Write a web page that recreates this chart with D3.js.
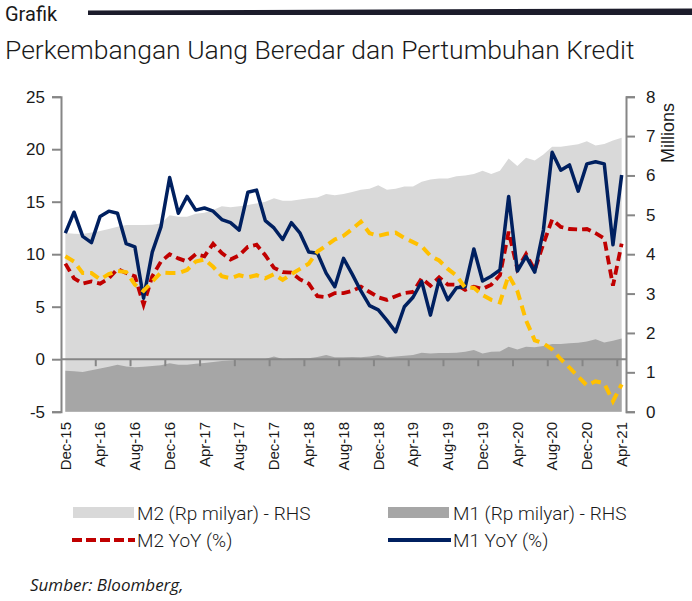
<!DOCTYPE html>
<html>
<head>
<meta charset="utf-8">
<script src="https://cdn.jsdelivr.net/npm/d3@7"></script>
<style>
  body { margin: 0; background: #fff; }
  svg { display: block; }
</style>
</head>
<body>
<div class="container"></div>
<script>
// categories (Dec-15 .. Apr-21)
const months = ["Dec-15","Jan-16","Feb-16","Mar-16","Apr-16","May-16","Jun-16","Jul-16","Aug-16","Sep-16","Oct-16","Nov-16",
  "Dec-16","Jan-17","Feb-17","Mar-17","Apr-17","May-17","Jun-17","Jul-17","Aug-17","Sep-17","Oct-17","Nov-17",
  "Dec-17","Jan-18","Feb-18","Mar-18","Apr-18","May-18","Jun-18","Jul-18","Aug-18","Sep-18","Oct-18","Nov-18",
  "Dec-18","Jan-19","Feb-19","Mar-19","Apr-19","May-19","Jun-19","Jul-19","Aug-19","Sep-19","Oct-19","Nov-19",
  "Dec-19","Jan-20","Feb-20","Mar-20","Apr-20","May-20","Jun-20","Jul-20","Aug-20","Sep-20","Oct-20","Nov-20",
  "Dec-20","Jan-21","Feb-21","Mar-21","Apr-21"]

// M2 and M1 level, Rp milyar in millions (RHS)
const m2Level = [4.54,4.52,4.51,4.55,4.59,4.64,4.70,4.74,4.74,4.74,4.75,4.78,
  4.99,4.95,4.95,5.03,5.05,5.12,5.22,5.19,5.22,5.25,5.29,5.33,
  5.42,5.36,5.36,5.39,5.42,5.44,5.53,5.50,5.53,5.58,5.64,5.66,
  5.75,5.64,5.66,5.72,5.72,5.84,5.90,5.92,5.92,5.98,6.00,6.04,
  6.12,6.04,6.12,6.43,6.24,6.45,6.38,6.53,6.73,6.73,6.76,6.79,
  6.87,6.76,6.80,6.89,6.96]
const m1Level = [1.04,1.03,1.01,1.05,1.10,1.14,1.19,1.15,1.13,1.14,1.16,1.18,
  1.23,1.19,1.19,1.22,1.24,1.26,1.29,1.30,1.31,1.31,1.32,1.34,
  1.40,1.34,1.35,1.36,1.36,1.39,1.44,1.38,1.38,1.39,1.38,1.40,
  1.44,1.38,1.40,1.42,1.44,1.50,1.48,1.49,1.49,1.50,1.52,1.57,
  1.48,1.52,1.53,1.65,1.58,1.65,1.64,1.67,1.72,1.72,1.74,1.75,
  1.78,1.84,1.76,1.80,1.86]

// growth, % YoY (LHS)
const m2Yoy = [9.1,7.7,7.2,7.4,7.2,7.7,8.6,8.2,7.9,5.2,7.9,9.3,
  10.0,9.6,9.3,10.0,9.8,11.0,10.1,9.5,9.9,10.7,10.9,9.9,
  8.7,8.3,8.25,7.6,7.2,6.0,5.9,6.3,6.3,6.5,6.9,6.4,
  5.9,5.65,6.0,6.3,6.4,7.7,7.0,7.8,7.1,7.1,6.6,6.9,
  6.7,7.1,8.0,12.15,8.6,10.0,8.5,11.0,13.3,12.6,12.4,12.35,
  12.4,12.0,11.5,7.0,11.0]
const m1Yoy = [12.0,14.0,11.7,11.1,13.6,14.1,13.9,11.0,10.7,5.8,10.2,12.6,
  17.3,13.9,15.5,14.2,14.4,14.1,13.3,13.0,12.3,15.9,16.1,13.2,
  12.5,11.4,13.0,12.0,10.2,10.1,8.2,6.9,9.6,8.1,6.5,5.1,
  4.7,3.7,2.6,5.0,5.9,7.4,4.2,7.55,5.65,6.8,6.9,10.5,
  7.45,7.9,8.5,15.5,8.4,9.8,8.3,12.3,19.7,18.0,18.5,16.0,
  18.6,18.8,18.6,10.9,17.55]
const creditYoy = [9.8,9.3,8.2,8.2,7.6,8.1,8.4,8.3,7.1,6.5,7.4,8.25,
  8.2,8.2,8.5,9.3,9.5,8.8,7.9,7.7,8.0,7.8,8.0,7.7,
  8.1,7.55,8.1,8.6,9.1,10.25,10.8,11.4,11.75,12.4,13.1,12.0,
  11.75,11.95,12.05,11.55,11.15,10.75,9.85,9.4,8.6,7.95,6.8,6.8,
  6.1,5.65,5.4,8.0,6.5,3.7,1.8,1.5,0.95,0.0,-0.8,-1.65,
  -2.5,-2.1,-2.3,-4.0,-2.4]

const leftTicks = [-5,0,5,10,15,20,25]
const rightTicks = [0,1,2,3,4,5,6,7,8]
const labelMonths = months.filter((d,i) => i % 4 == 0)

const width = 692
const height = 601
const plotLeft = 61, plotRight = 626
const plotTop = 96.7, plotBottom = 411.7

const svg = d3.select(".container").append("svg")
    .attr("width", width)
    .attr("height", height)

const xScale = d3.scaleBand()
    .domain(months)
    .range([plotLeft, plotRight])
const xMid = d => xScale(d) + xScale.bandwidth() / 2

const yLeft = d3.scaleLinear().domain([-5, 25]).range([plotBottom, plotTop])
const yRight = d3.scaleLinear().domain([0, 8]).range([plotBottom, plotTop])

// header
svg.append("text")
    .attr("x", 5).attr("y", 21)
    .style("font-family", "Roboto").style("font-weight", 400)
    .style("font-size", "20px").style("fill", "#1a1a1a")
    .text("Grafik")
svg.append("path")
    .attr("d", "M88,10.5 L692,8.5 L692,15 L88,15 Z")
    .style("fill", "#1c1c2b")
svg.append("text")
    .attr("x", 5).attr("y", 59)
    .style("font-family", "Roboto").style("font-weight", 300)
    .style("font-size", "26.5px").style("fill", "#1a1a1a")
    .text("Perkembangan Uang Beredar dan Pertumbuhan Kredit")

// areas (RHS)
const area = vals => d3.area()
    .x((d,i) => xMid(months[i]))
    .y0(yRight(0))
    .y1(d => yRight(d))(vals)

svg.append("path").attr("d", area(m2Level)).style("fill", "#d9d9d9")
svg.append("path").attr("d", area(m1Level)).style("fill", "#a6a6a6")

// zero line with category ticks every 4 months
const zeroY = yLeft(0)
svg.append("line")
    .attr("x1", plotLeft).attr("x2", plotRight)
    .attr("y1", zeroY).attr("y2", zeroY)
    .style("stroke", "#868686").style("stroke-width", 2)
svg.selectAll(".cattick")
    .data(labelMonths.slice(1))
    .enter()
    .append("line")
    .attr("class", "cattick")
    .attr("x1", d => xScale(d))
    .attr("x2", d => xScale(d))
    .attr("y1", zeroY).attr("y2", zeroY + 7)
    .style("stroke", "#868686").style("stroke-width", 2)

// lines (LHS)
const line = vals => d3.line()
    .x((d,i) => xMid(months[i]))
    .y(d => yLeft(d))(vals)

svg.append("path").attr("d", line(m2Yoy))
    .style("fill", "none").style("stroke", "#c00000")
    .style("stroke-width", 3.8).style("stroke-dasharray", "9,5")
svg.append("path").attr("d", line(m1Yoy))
    .style("fill", "none").style("stroke", "#002060")
    .style("stroke-width", 3.5).style("stroke-linejoin", "round")
svg.append("path").attr("d", line(creditYoy))
    .style("fill", "none").style("stroke", "#ffc000")
    .style("stroke-width", 4).style("stroke-dasharray", "10,6")

// axes
const leftAxis = d3.axisLeft(yLeft).tickValues(leftTicks).tickSize(9).tickPadding(7).tickFormat(d => d)
const rightAxis = d3.axisRight(yRight).tickValues(rightTicks).tickSize(9).tickPadding(11).tickFormat(d => d)

svg.append("g")
    .attr("id", "y-axis")
    .attr("transform", `translate(${plotLeft},0)`)
    .call(leftAxis)
svg.append("g")
    .attr("id", "y2-axis")
    .attr("transform", `translate(${plotRight},0)`)
    .call(rightAxis)

svg.selectAll("#y-axis path, #y-axis line, #y2-axis path, #y2-axis line")
    .style("stroke", "#868686").style("stroke-width", 2)
svg.selectAll("#y-axis text, #y2-axis text")
    .style("font-family", "Liberation Sans").style("font-size", "17px").style("fill", "#1a1a1a")

svg.append("text")
    .attr("transform", "translate(668,133) rotate(-90)")
    .attr("text-anchor", "middle").attr("dy", "0.35em")
    .style("font-family", "Liberation Sans").style("font-size", "18px").style("fill", "#1a1a1a")
    .text("Millions")

// x labels
svg.selectAll(".xlabel")
    .data(labelMonths)
    .enter()
    .append("text")
    .attr("class", "xlabel")
    .attr("transform", d => `translate(${xMid(d)},422) rotate(-90)`)
    .attr("text-anchor", "end").attr("dy", "0.35em")
    .style("font-family", "Liberation Sans").style("font-size", "15px").style("fill", "#1a1a1a")
    .text(d => d)

// legend
const legend = svg.append("g").attr("id", "legend")
const legFont = g => g.style("font-family", "Roboto").style("font-weight", 300).style("font-size", "19px").style("fill", "#1a1a1a")

legend.append("rect").attr("x", 73).attr("y", 507).attr("width", 61).attr("height", 11).style("fill", "#d9d9d9")
legend.append("text").attr("x", 137).attr("y", 513).attr("dy", "0.35em").call(legFont).text("M2 (Rp milyar) - RHS")
legend.append("rect").attr("x", 388).attr("y", 507).attr("width", 61).attr("height", 11).style("fill", "#a6a6a6")
legend.append("text").attr("x", 453).attr("y", 513).attr("dy", "0.35em").call(legFont).text("M1 (Rp milyar) - RHS")

legend.append("line").attr("x1", 72).attr("x2", 135).attr("y1", 540).attr("y2", 540)
    .style("stroke", "#c00000").style("stroke-width", 4).style("stroke-dasharray", "10,4")
legend.append("text").attr("x", 137).attr("y", 540).attr("dy", "0.35em").call(legFont).text("M2 YoY (%)")
legend.append("line").attr("x1", 388).attr("x2", 451).attr("y1", 540).attr("y2", 540)
    .style("stroke", "#002060").style("stroke-width", 4)
legend.append("text").attr("x", 453).attr("y", 540).attr("dy", "0.35em").call(legFont).text("M1 YoY (%)")

svg.append("text")
    .attr("x", 30).attr("y", 591)
    .style("font-family", "Open Sans").style("font-style", "italic")
    .style("font-size", "17px").style("fill", "#1a1a1a")
    .text("Sumber: Bloomberg,")
</script>
</body>
</html>
